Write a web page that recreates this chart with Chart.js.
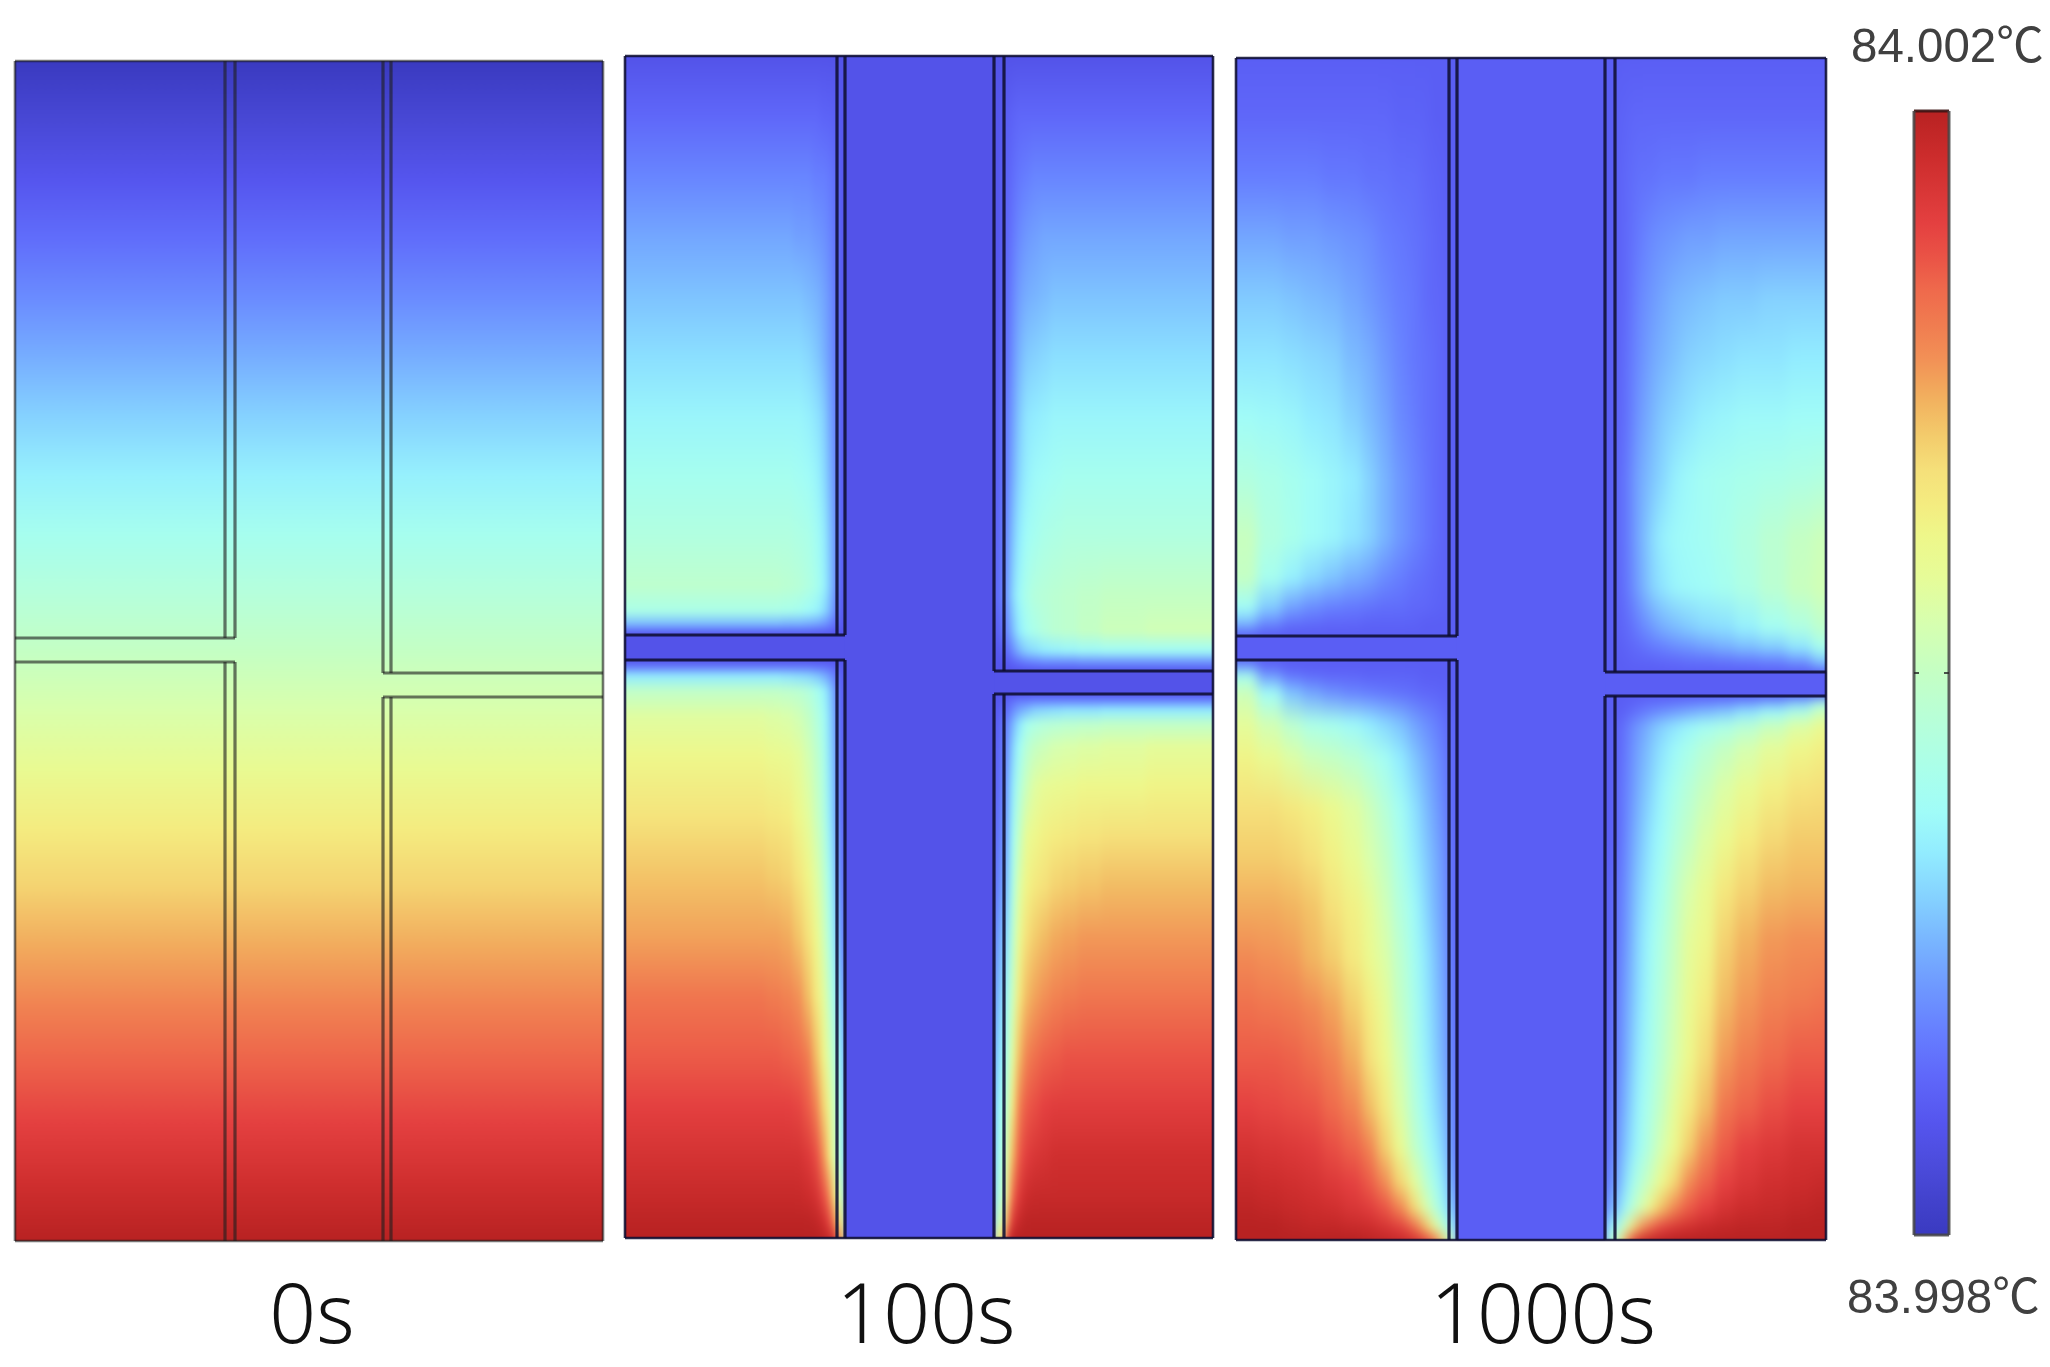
<!DOCTYPE html>
<html><head><meta charset="utf-8">
<script src="https://cdn.jsdelivr.net/npm/chart.js@4/dist/chart.umd.min.js"></script>
<style>
html,body{margin:0;padding:0;background:#fff;width:2050px;height:1367px;overflow:hidden}
.clip{position:absolute;overflow:hidden}
canvas{position:absolute;display:block}
.cap{position:absolute;font-family:"Noto Sans",sans-serif;font-weight:300;font-size:82px;line-height:100px;color:#111;transform:translateX(-50%);white-space:nowrap;filter:blur(.5px)}
.tmp{position:absolute;font-family:"Liberation Sans","Noto Sans CJK SC",sans-serif;font-size:47.5px;line-height:56px;color:#404040;white-space:nowrap;filter:blur(.5px)}
</style></head><body>
<script>
// Colour scale: position on the bar (percent of the 83.998..84.002 °C range) and colour
const mapT=[0,3,6.4,10,14.2,18,22,26,29.8,34,37.6,41.4,45.4,50,54.3,58.5,62.2,65,68,71,74,76,78,81,84,87,90,93,96,100];
const mapC=['#3a3ac0','#4242cc','#4c4cdc','#5555ee','#5f68fa','#667eff','#6e98ff','#78b4ff','#84d0ff','#92ecff','#a0fcf8','#aaffea','#b6ffda','#c4ffc4','#d6ffb0','#e6fc98','#eef78a','#f4ec80','#f5e07a','#f3cc6c','#f2b460','#f2a25a','#f29056','#f07c50','#ef6a4c','#ea5346','#e44040','#d83636','#cc2c2c','#b82222'];
const barRange=[83.998,84.002];
const barTick=[84];
const captions=['0s','100s','1000s'];
const tempLabels=['84.002℃','83.998℃'];

// Temperature fields, in percent of the colour range. Rows run down the panel, columns across it.
const y0s=[0,59,118,177,236,295,354,413,472,531,590,649,708,767,826,885,944,1003,1062,1121,1180];
const t0s=[0,5,10,15,20,25,30,35,40,45,50,55,60,65,70,75,80,85,90,95,100];

// 100 s
const xL100=[0,70,115,140,155,167,177,186,194,201,207,212,216,220];
const xR100=[369,373,379,384,390,397,405,414,424,436,452,475,520,588];
const yUL100=[0,60,120,180,240,300,360,420,480,530,555,568,575,579];
const tUL100=[
[9,9,9,9,9,9,9,9,9,9,9,9,9],
[14,14,14,14,14,14,14,14,13,13,12,11,10],
[19,19,19,19,19,19,19,18,18,17,15,12,10],
[24,24,24,24,24,23,23,22,21,19,16,13,10],
[28,28,28,28,28,28,27,26,24,21,17,13,10],
[32,32,32,32,32,32,31,29,26,22,18,13,11],
[36,36,36,36,36,36,35,33,30,24,19,14,11],
[40,40,40,40,40,39,38,36,32,26,20,14,11],
[44,44,44,44,44,43,42,39,35,28,21,15,11],
[48,48,48,48,47,46,44,41,36,29,21,14,11],
[42,42,42,42,41,40,38,36,32,26,19,13,10],
[27,27,27,27,26,26,25,24,22,19,15,12,10],
[15,15,15,15,15,15,15,14,14,13,12,10,10],
[10,10,10,10,10,10,10,10,10,10,10,10,10]];
const yLL100=[604,610,620,635,660,700,760,820,880,940,1000,1050,1100,1140,1165,1182];
const tLL100=[
[10,10,10,10,10,10,10,10,10,10,10,10,10],
[16,16,16,16,16,16,16,15,15,14,13,11,10],
[34,34,34,34,33,32,31,29,26,22,17,13,11],
[49,49,49,49,48,47,45,41,36,29,21,14,11],
[57,57,57,56,55,53,50,45,39,31,22,15,11],
[62,62,62,61,60,58,54,49,42,32,24,15,12],
[67,67,67,66,65,62,58,52,45,34,25,17,13],
[72,72,72,71,70,67,63,57,49,38,28,20,15],
[76,76,76,76,75,72,68,62,53,42,32,24,18],
[82,82,82,81,80,78,73,66,58,47,37,29,24],
[86,86,86,86,85,84,81,73,63,53,43,35,30],
[90,90,90,90,90,89,86,80,70,59,48,40,34],
[94,94,94,94,94,94,92,88,78,65,52,44,38],
[97,97,97,97,97,97,96,94,88,78,62,54,48],
[99,99,99,99,99,99,99,98,95,88,76,65,56],
[100,100,100,100,100,100,100,100,99,97,90,76,66]];
const yUR100=[0,60,120,180,240,300,360,420,480,540,575,595,607,615];
const tUR100=[
[9,9,9,9,9,9,9,9,9,9,9,9,9],
[10,11,12,13,14,14,14,14,14,14,14,14,14],
[10,12,13,15,17,18,19,19,19,19,19,19,19],
[10,12,14,17,20,22,23,24,24,24,24,24,24],
[10,13,15,19,23,25,26,27,28,28,28,28,28],
[11,14,16,21,26,29,30,31,32,32,32,32,32],
[12,15,18,23,29,33,34,35,36,36,36,36,36],
[13,15,19,25,31,35,37,38,39,40,40,40,40],
[14,16,21,28,34,38,40,42,43,44,44,44,44],
[15,17,23,31,37,42,45,46,47,48,49,50,50],
[12,15,20,27,34,39,42,45,47,48,50,52,53],
[10,12,15,20,26,30,32,34,35,36,37,38,38],
[10,10,11,13,15,17,18,19,19,19,20,20,20],
[10,10,10,10,10,10,10,10,10,10,10,10,10]];
const yLR100=[638,644,654,668,690,730,780,830,880,940,1000,1050,1100,1140,1165,1182];
const tLR100=[
[10,10,10,10,10,10,10,10,10,10,10,10,10],
[10,11,13,15,17,17,18,18,18,18,18,18,18],
[11,13,15,20,24,27,30,31,32,33,33,34,34],
[12,15,19,26,33,40,43,45,46,47,48,49,49],
[13,16,21,30,38,46,50,52,54,55,56,57,58],
[14,17,24,34,44,52,57,59,60,61,62,62,63],
[16,19,26,38,50,59,62,64,65,66,67,68,68],
[18,22,29,42,56,63,66,68,70,71,72,73,73],
[22,26,33,47,60,68,71,73,75,76,77,77,77],
[26,30,39,52,66,73,76,78,80,81,82,82,82],
[30,34,44,58,73,80,83,85,86,87,87,87,87],
[34,38,50,66,80,86,88,90,91,91,91,91,91],
[37,42,58,74,86,91,93,94,95,95,95,95,95],
[42,46,66,84,92,96,97,97,97,97,97,97,97],
[48,54,76,92,97,99,99,99,99,99,99,99,99],
[58,66,90,99,100,100,100,100,100,100,100,100,100]];

// 1000 s
const xL1000=[0,20,45,65,85,105,125,140,155,170,182,192,200,207,213,221];
const xR1000=[369,379,385,392,400,410,420,432,445,460,478,498,522,550,575,590];
const yUL1000=[0,60,120,180,240,300,360,420,480,520,550,565,575,578];
const tUL1000=[
[12,12,12,12,12,12,12,12,12,12,12,12,12,12,12],
[14,14,14,14,14,14,14,14,13,13,13,12,12,12,12],
[18,18,18,18,17,17,16,16,15,15,14,13,13,12,12],
[24,24,23,23,22,21,20,18,17,16,15,14,13,13,12],
[29,29,28,27,26,24,22,20,18,17,15,14,14,13,12],
[33,33,32,31,30,27,25,22,19,17,16,15,14,13,12],
[38,37,36,34,33,30,27,24,20,18,16,15,14,13,12],
[44,42,40,38,36,34,30,26,22,19,17,15,14,13,12],
[51,44,41,38,36,33,30,26,22,19,17,15,14,13,12],
[50,40,35,31,28,25,23,20,18,16,15,14,13,13,12],
[38,29,23,20,18,17,16,15,15,14,14,13,13,12,12],
[27,20,16,15,14,14,13,13,13,13,12,12,12,12,12],
[16,13,12,12,12,12,12,12,12,12,12,12,12,12,12],
[12,12,12,12,12,12,12,12,12,12,12,12,12,12,12]];
const yLL1000=[602,608,618,635,666,700,750,800,850,900,950,1000,1050,1090,1125,1150,1170,1182];
const tLL1000=[
[12,12,12,12,12,12,12,12,12,12,12,12,12,12,12],
[22,14,12,12,12,12,12,12,12,12,12,12,12,12,12],
[40,23,17,15,14,14,13,13,13,13,12,12,12,12,12],
[52,38,28,24,21,19,18,17,16,15,14,14,13,13,12],
[58,53,47,42,40,37,34,31,28,24,21,19,17,15,13],
[63,60,56,52,50,47,43,39,34,29,25,22,19,17,13],
[68,68,66,64,61,57,52,46,39,33,28,24,21,18,13],
[71,71,70,68,64,60,55,50,42,35,30,26,23,19,14],
[75,75,74,72,68,64,59,53,45,38,32,27,24,20,14],
[79,78,77,74,71,66,61,56,48,40,34,29,25,21,15],
[83,82,81,79,76,71,65,59,50,42,35,30,26,22,16],
[86,86,85,83,80,75,68,62,53,43,36,31,27,23,17],
[90,89,88,87,84,80,73,66,56,46,38,33,29,25,18],
[94,93,92,91,88,85,80,71,61,50,42,36,32,27,19],
[97,96,95,94,92,90,86,79,70,59,49,41,36,30,22],
[99,98,97,96,95,93,91,87,80,70,57,47,40,33,27],
[100,100,99,98,98,97,96,94,91,85,75,63,52,42,35],
[100,100,100,100,100,100,99,98,97,95,91,85,75,60,45]];
const yUR1000=[0,60,120,180,240,300,360,420,480,530,570,590,604,612,614];
const tUR1000=[
[12,12,12,12,12,12,12,12,12,12,12,12,12,12,12],
[12,13,13,14,14,14,14,14,14,14,14,14,14,14,14],
[12,13,14,15,16,16,17,17,17,18,18,18,18,18,18],
[12,13,14,16,18,20,21,22,23,23,24,24,24,24,24],
[12,13,14,17,20,22,24,26,27,28,29,29,30,30,30],
[12,13,15,18,21,24,26,28,30,31,32,33,33,34,34],
[12,14,15,19,23,26,29,31,33,35,36,37,37,38,38],
[12,15,16,21,25,28,31,35,37,39,40,41,42,43,44],
[12,15,16,21,26,31,35,37,38,39,41,44,47,50,52],
[12,14,16,20,25,30,33,36,37,38,40,43,47,51,53],
[12,13,14,16,19,22,25,27,29,31,32,35,39,43,48],
[12,12,13,14,15,17,18,20,21,23,25,27,29,33,40],
[12,12,12,13,13,13,14,14,15,15,16,17,18,21,28],
[12,12,12,12,12,12,12,13,13,13,13,13,14,14,18],
[12,12,12,12,12,12,12,12,12,12,12,12,12,12,12]];
const yLR1000=[638,644,654,668,690,730,780,830,880,940,1000,1050,1090,1125,1150,1170,1182];
const tLR1000=[
[12,12,12,12,12,12,12,12,12,12,12,12,12,12,12],
[12,12,12,13,14,15,15,16,17,18,19,21,24,29,40],
[12,12,13,15,17,19,21,23,25,27,29,33,37,43,52],
[12,14,16,20,23,27,30,33,36,39,42,46,51,56,60],
[12,14,17,21,25,29,33,37,41,46,50,54,58,62,64],
[12,15,18,22,27,31,36,41,46,51,56,60,64,67,68],
[12,15,19,24,29,34,38,45,50,56,61,65,69,71,71],
[13,17,20,26,31,36,41,49,55,60,66,70,73,74,74],
[13,18,21,27,33,38,44,51,58,62,70,74,77,78,78],
[14,19,23,28,34,40,46,53,60,65,73,77,80,81,82],
[15,20,24,30,36,41,48,55,62,69,77,81,84,86,86],
[16,22,26,32,38,44,51,59,66,73,82,85,88,90,90],
[17,24,28,34,40,47,55,62,71,79,86,90,92,94,94],
[20,26,32,40,47,54,62,70,79,85,90,93,95,96,97],
[25,30,38,46,55,64,73,80,86,90,94,96,97,98,99],
[36,42,54,68,78,85,90,93,95,97,98,99,99,100,100],
[45,55,75,90,96,98,99,100,100,100,100,100,100,100,100]];

// Geometry of each panel in model units: size, wall lines, cross-channel edges, channel temperature
const sizeW=[588,588,590], sizeH=[1180,1182,1182];
const wallX=[[210,220,368,376],[212,220,369,379],[213,221,369,379]];
const crossY=[[577,601,612,636],[579,604,615,638],[578,602,614,638]];
const channelT=[null,9,12];
const panelLeft=[15,625,1236], panelTop=[61,56,58];
const lineCol=['rgba(30,30,30,.62)','rgba(15,15,50,.88)','rgba(15,15,50,.88)'];
const captionX=[312,926,1543], captionTop=[1261,1261,1261];
const blurPx=[1,3,5.5];

const M=12;
function hex(c){return [1,3,5].map(i=>parseInt(c.substr(i,2),16));}
function tColor(t){
  t=Math.max(0,Math.min(100,t));
  for(let i=1;i<mapT.length;i++){
    if(t<=mapT[i]){
      const f=(t-mapT[i-1])/(mapT[i]-mapT[i-1]),a=hex(mapC[i-1]),b=hex(mapC[i]);
      return 'rgb('+a.map((v,k)=>Math.round(v+(b[k]-v)*f)).join(',')+')';
    }
  }
  return mapC[mapC.length-1];
}
function gradientFill(ys,ts){
  return c=>{
    const s=c.chart.scales.y,p0=s.getPixelForValue(ys[0]),p1=s.getPixelForValue(ys[ys.length-1]);
    if(!isFinite(p0)||!isFinite(p1)) return tColor(ts[0]);
    const g=c.chart.ctx.createLinearGradient(0,p0,0,p1);
    ys.forEach((y,i)=>g.addColorStop((y-ys[0])/(ys[ys.length-1]-ys[0]),tColor(ts[i])));
    return g;
  };
}
function rect(x0,x1,y0,y1,fill){
  return {type:'bar',data:[{x:(x0+x1)/2,y:[y0,y1]}],barThickness:x1-x0,backgroundColor:fill,borderWidth:0,grouped:false};
}
function block(xs,ys,rows,W,H){
  const out=[];
  for(let i=0;i<xs.length-1;i++){
    const col=rows.map(r=>r[i]);
    const x0=xs[i]===0?-M:xs[i],x1=xs[i+1]===W?W+M:xs[i+1]+0.6;
    const y0=ys[0]===0?-M:ys[0],y1=ys[ys.length-1]===H?H+M:ys[ys.length-1];
    out.push(rect(x0,x1,y0,y1,gradientFill(ys,col)));
  }
  return out;
}
function makeChart(parent,left,top,w,h,datasets,xmin,xmax,ymin,ymax,pos){
  const cv=document.createElement('canvas');
  cv.width=w;cv.height=h;cv.style.width=w+'px';cv.style.height=h+'px';
  cv.style.left=left+'px';cv.style.top=top+'px';
  parent.appendChild(cv);
  return new Chart(cv.getContext('2d'),{type:'bar',data:{datasets},options:{
    responsive:false,animation:false,devicePixelRatio:1,maintainAspectRatio:false,
    layout:{padding:0},
    plugins:{legend:{display:false},tooltip:{enabled:false}},
    scales:{
      x:{type:'linear',min:xmin,max:xmax,display:false,offset:false,grid:{display:false}},
      y:{type:'linear',min:ymin,max:ymax,reverse:pos,display:false,grid:{display:false}}
    }
  }});
}
function seg(a,b,c,d,col,w){
  return {type:'line',data:[{x:a,y:b},{x:c,y:d}],borderColor:col,borderWidth:w,pointRadius:0,fill:false,tension:0,clip:false};
}
const fieldBlocks=[
  null,
  [[xL100,yUL100,tUL100],[xL100,yLL100,tLL100],[xR100,yUR100,tUR100],[xR100,yLR100,tLR100]],
  [[xL1000,yUL1000,tUL1000],[xL1000,yLL1000,tLL1000],[xR1000,yUR1000,tUR1000],[xR1000,yLR1000,tLR1000]]
];
[0,1,2].forEach(p=>{
  const W=sizeW[p],H=sizeH[p],[a,b,c,d]=wallX[p],[e,f,g,h]=crossY[p];
  const clip=document.createElement('div');clip.className='clip';
  clip.style.cssText+=`left:${panelLeft[p]}px;top:${panelTop[p]}px;width:${W}px;height:${H}px`;
  document.body.appendChild(clip);
  let ds=[];
  if(p===0){ ds=[rect(-M,W+M,-M,H+M,gradientFill(y0s,t0s))]; }
  else{
    fieldBlocks[p].forEach(bk=>{ds=ds.concat(block(bk[0],bk[1],bk[2],W,H));});
    ds.push(rect(b-2,c+2,-M,H+M,tColor(channelT[p])));
    ds.push(rect(-M,b,e-2,f+2,tColor(channelT[p])));
    ds.push(rect(c,W+M,g-2,h+2,tColor(channelT[p])));
  }
  makeChart(clip,-M,-M,W+2*M,H+2*M,ds,-M,W+M,-M,H+M,true).canvas.style.filter='blur('+blurPx[p]+'px)';
  const col=lineCol[p],lw=3.2;
  const lines=[
    seg(a,0,a,e,col,lw),seg(b,0,b,e,col,lw),seg(0,e,b,e,col,lw),
    seg(0,f,b,f,col,lw),seg(a,f,a,H,col,lw),seg(b,f,b,H,col,lw),
    seg(c,0,c,g,col,lw),seg(d,0,d,g,col,lw),seg(c,g,W,g,col,lw),
    seg(c,h,W,h,col,lw),seg(c,h,c,H,col,lw),seg(d,h,d,H,col,lw),
    seg(0,0,W,0,col,2.6),seg(W,0,W,H,col,2.6),seg(W,H,0,H,col,2.6),seg(0,H,0,0,col,2.6)
  ];
  const over=p?[rect(b,c,0,H,tColor(channelT[p])),rect(0,b,e,f,tColor(channelT[p])),rect(c,W,g,h,tColor(channelT[p]))]:[];
  const ch=makeChart(document.body,panelLeft[p]-M,panelTop[p]-M,W+2*M,H+2*M,lines.concat(over),-M,W+M,-M,H+M,true);
  ch.canvas.style.filter='blur(.7px)';
  const t=document.createElement('div');t.className='cap';t.textContent=captions[p];
  t.style.left=captionX[p]+'px';t.style.top=captionTop[p]+'px';
  document.body.appendChild(t);
});

// colour bar
const barCol='rgba(70,70,70,.85)';
const barFill=c=>{
  const s=c.chart.scales.y,p0=s.getPixelForValue(barRange[0]),p1=s.getPixelForValue(barRange[1]);
  if(!isFinite(p0)||!isFinite(p1)) return mapC[0];
  const g=c.chart.ctx.createLinearGradient(0,p0,0,p1);
  mapT.forEach((t,i)=>g.addColorStop(t/100,mapC[i]));
  return g;
};
const barChart=makeChart(document.body,1904,101,55,1144,[
  seg(10,barTick[0],15,barTick[0],'rgba(40,40,40,.8)',2),
  seg(40,barTick[0],45,barTick[0],'rgba(40,40,40,.8)',2),
  seg(10,barRange[0],10,barRange[1],barCol,3),seg(45,barRange[0],45,barRange[1],barCol,3),
  seg(10,barRange[0],45,barRange[0],barCol,3),seg(10,barRange[1],45,barRange[1],'rgba(60,20,20,.9)',3),
  {type:'bar',data:[{x:27.5,y:[barRange[0],barRange[1]]}],barThickness:35,backgroundColor:barFill,borderWidth:0,grouped:false}
],0,55,83.998-0.004*10/1124,84.002+0.004*10/1124,false);
barChart.canvas.style.filter='blur(.7px)';

tempLabels.forEach((s,i)=>{
  const t=document.createElement('div');t.className='tmp';t.textContent=s;
  t.style.left=[1851,1847][i]+'px';t.style.top=[18,1269][i]+'px';
  document.body.appendChild(t);
});
</script>
</body></html>
